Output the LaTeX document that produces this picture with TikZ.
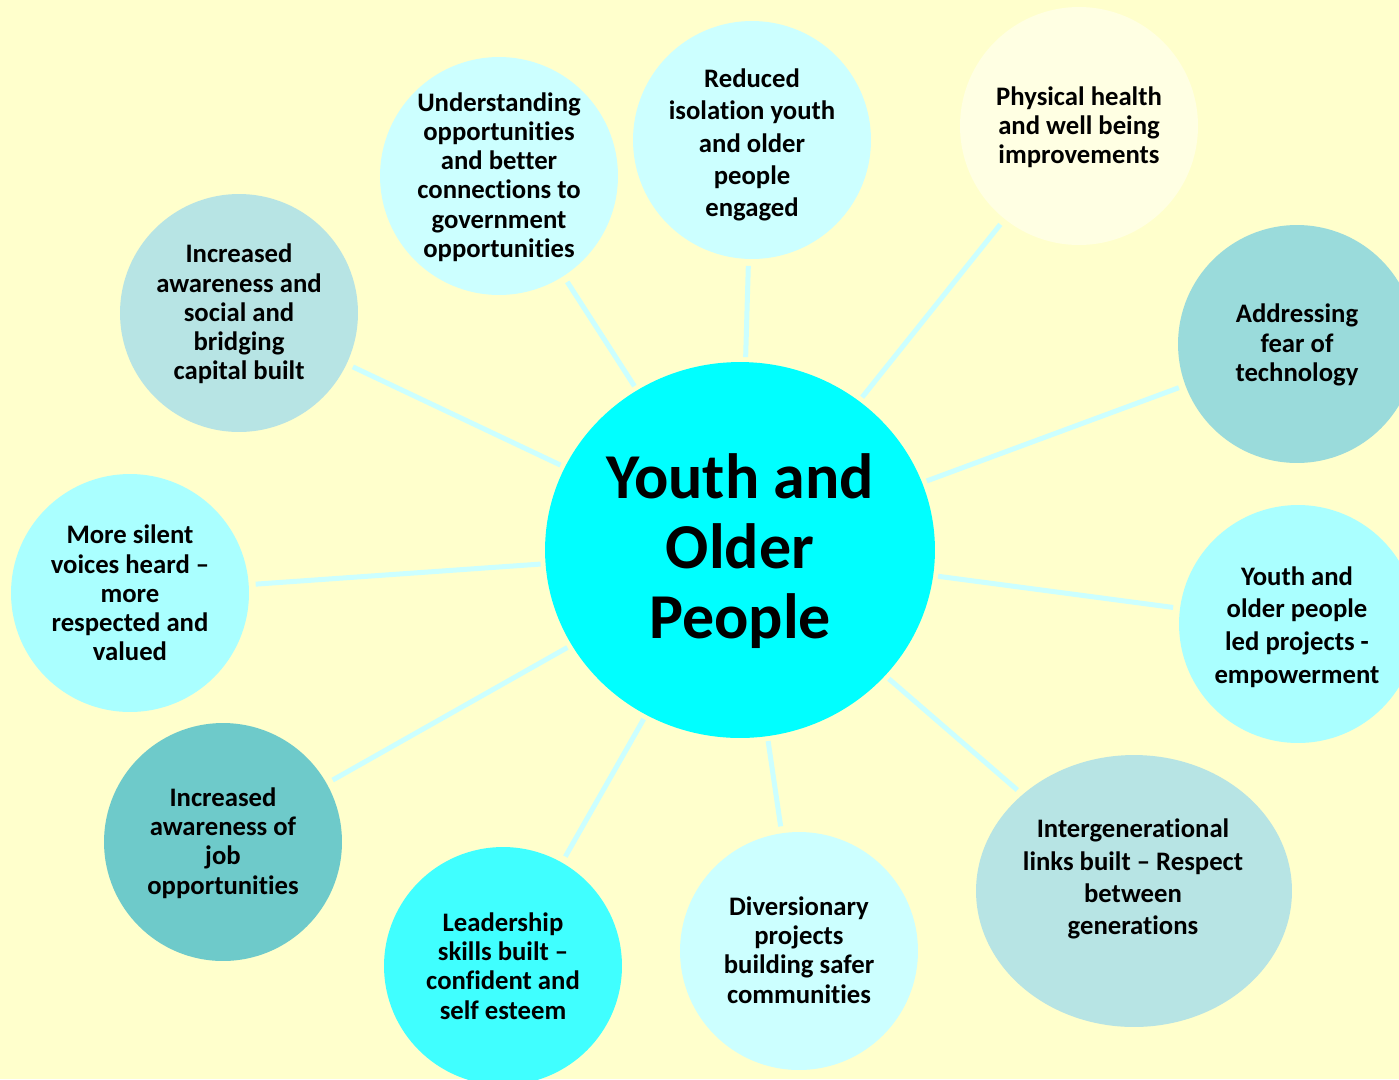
\documentclass[tikz,border=0pt]{standalone}
\usepackage{fontspec}
\setmainfont{Carlito}[Ligatures=NoCommon]
\usetikzlibrary{shapes.geometric}
\definecolor{bgyellow}{HTML}{FFFFCC}
\definecolor{hubcyan}{HTML}{00FFFF}
\definecolor{palecyan}{HTML}{CCFFFF}
\definecolor{lightcyan}{HTML}{AAFFFF}
\definecolor{brightcyan}{HTML}{40FFFF}
\definecolor{paleteal}{HTML}{B7E4E4}
\definecolor{midteal}{HTML}{9ADBDB}
\definecolor{darkteal}{HTML}{6ECACA}
\definecolor{paleyellow}{HTML}{FFFFE3}
\definecolor{linecyan}{HTML}{CCFFFF}
\tikzset{
  bubble/.style={ellipse, draw=none, inner sep=0pt, outer sep=0pt,
    minimum width=4.76cm, minimum height=4.76cm},
  txt/.style={align=center, inner sep=0pt, text=black,
    font=\bfseries\fontsize{15.2}{16.6}\selectfont},
  bigtxt/.style={align=center, inner sep=0pt, text=black,
    font=\bfseries\fontsize{36.4}{40}\selectfont},
  conn/.style={draw=linecyan, line width=0.1cm, shorten <=0.1cm, shorten >=0.14cm}
}
\begin{document}
\begin{tikzpicture}[x=0.02cm,y=-0.02cm]
\useasboundingbox (0,0) rectangle (1399,1079);
\clip (0,0) rectangle (1399,1079);
\fill[bgyellow] (0,0) rectangle (1399,1079);

% hub
\node[bubble, fill=hubcyan, minimum width=7.8cm, minimum height=7.52cm] (hub) at (740,550) {};
\node[bigtxt] (thub) at (740,551) {Youth and\\Older\\People};

% outer bubbles
\node[bubble, fill=palecyan] (b1) at (752,140) {};
\node[txt, font=\bfseries\fontsize{15.2}{18.4}\selectfont] (t1) at (752,145) {Reduced\\isolation youth\\and older\\people\\engaged};

\node[bubble, fill=palecyan] (b2) at (499,176) {};
\node[txt] (t2) at (499,177) {Understanding\\opportunities\\and better\\connections to\\government\\opportunities};

\node[bubble, fill=paleyellow] (b3) at (1079,126) {};
\node[txt] (t3) at (1079,127) {Physical health\\and well being\\improvements};

\node[bubble, fill=midteal] (b4) at (1297,344) {};
\node[txt] (t4) at (1297,345) {Addressing\\fear of\\technology};

\node[bubble, fill=lightcyan] (b5) at (1298,624) {};
\node[txt, font=\bfseries\fontsize{15.2}{18.6}\selectfont] (t5) at (1297,627) {Youth and\\older people\\led projects -\\empowerment};

\node[bubble, fill=paleteal, minimum width=6.32cm, minimum height=5.44cm] (b6) at (1134,891) {};
\node[txt, font=\bfseries\fontsize{15.2}{18.3}\selectfont] (t6) at (1133,879) {Intergenerational\\links built -- Respect\\between\\generations};

\node[bubble, fill=palecyan] (b7) at (799,951) {};
\node[txt] (t7) at (799,950) {Diversionary\\projects\\building safer\\communities};

\node[bubble, fill=brightcyan] (b8) at (503,966) {};
\node[txt] (t8) at (503,966) {Leadership\\skills built --\\confident and\\self esteem};

\node[bubble, fill=darkteal] (b9) at (223,842) {};
\node[txt] (t9) at (223,843) {Increased\\awareness of\\job\\opportunities};

\node[bubble, fill=lightcyan] (b10) at (130,593) {};
\node[txt] (t10) at (130,593) {More silent\\voices heard --\\more\\respected and\\valued};

\node[bubble, fill=paleteal] (b11) at (239,313) {};
\node[txt] (t11) at (239,314) {Increased\\awareness and\\social and\\bridging\\capital built};

% connectors
\foreach \b in {b1,b2,b3,b4,b5,b6,b7,b8,b9,b10,b11}
  \draw[conn] (hub) -- (\b);
\end{tikzpicture}
\end{document}
